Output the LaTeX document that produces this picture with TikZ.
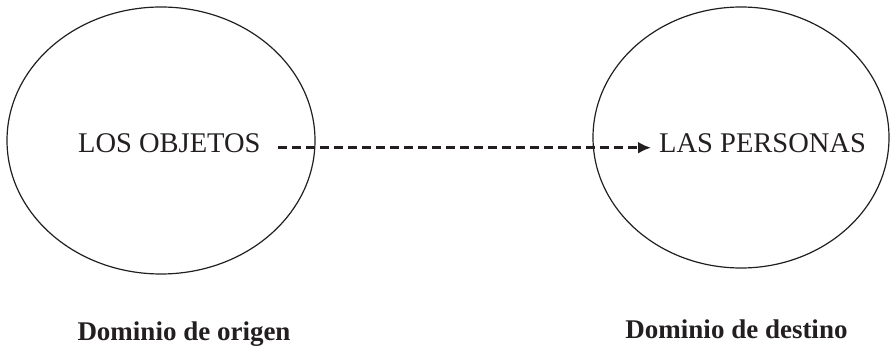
\documentclass[tikz,border=0pt]{standalone}
\usepackage{fontspec}
\setmainfont{Liberation Serif}
\usetikzlibrary{arrows.meta}
\usetikzlibrary{shapes.geometric, positioning, math}
\definecolor{myblack}{RGB}{35,31,32}

\tikzset{
domainell/.style={draw=myblack, ellipse, line width=1.2pt, inner sep=0pt},
concept/.style={inner sep=0pt, anchor=base west, text=myblack, font=\fontsize{28.5}{30}\selectfont},
domlabel/.style={inner sep=0pt, anchor=base, text=myblack, font=\fontsize{27}{29}\selectfont\bfseries},
mapping/.style={-{Latex[length=13pt,width=12pt]}, dash pattern=on 9pt off 5pt, line width=3pt, color=myblack}
}

\begin{document}
\begin{tikzpicture}[x=1pt,y=1pt]
\tikzmath{
\W=891;
\H=348;
}
\useasboundingbox (0,0) rectangle (\W,\H);

%the two domains:
\node[domainell, minimum width=308pt, minimum height=267pt] (origen) at (161,207.5) {};
\node[domainell, minimum width=296pt, minimum height=261pt] (destino) at (741,210.5) {};

%the concepts:
\node[concept] (objetos) at (78,195) {LOS OBJETOS};
\node[concept] (personas) at (659,195) {LAS PERSONAS};
\draw[mapping] ([shift={(17,-4)}]objetos.east) -- ([shift={(-8,-4)}]personas.west);

%labels below:
\node[domlabel] (lorigen) at (184,8) {Dominio de origen};
\node[domlabel] (ldestino) at (736.5,10) {Dominio de destino};
\end{tikzpicture}
\end{document}
